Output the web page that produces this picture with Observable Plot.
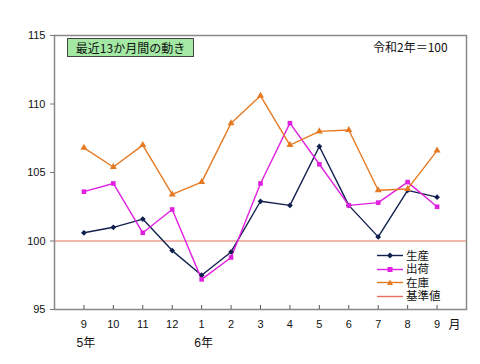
<!DOCTYPE html>
<html><head><meta charset="utf-8">
<script src="https://cdn.jsdelivr.net/npm/d3@7"></script>
<script src="https://cdn.jsdelivr.net/npm/@observablehq/plot@0.6"></script>
<style>
body{margin:0;background:#fff;font-family:"Liberation Sans","Noto Sans CJK JP",sans-serif;}
#wrap{position:relative;width:480px;height:364px;}
#title{position:absolute;left:67px;top:38px;width:125px;height:17px;background:#a3e8a3;border:1px solid #444;font-size:12px;line-height:17px;text-align:center;font-family:"Noto Sans CJK JP",sans-serif;color:#111;}
#base{position:absolute;left:373px;top:38px;font-size:12px;font-family:"Noto Sans CJK JP",sans-serif;color:#111;}
#legend{position:absolute;left:376px;top:249px;font-size:11.5px;font-family:"Liberation Sans","Noto Sans CJK JP",sans-serif;color:#111;}
#legend div{height:13.5px;line-height:12px;display:flex;align-items:center;}
#legend svg{margin-right:2px;}
</style></head><body><div id="wrap"><div id="chart"></div><div id="title"></div><div id="base"></div><div id="legend"></div></div>
<script>
const months = ["9","10","11","12","1","2","3","4","5","6","7","8","9"];
const yearLabels = ["5年","6年"];
const yearAt = [0, 4];
const production = [100.6,101.0,101.6,99.3,97.5,99.2,102.9,102.6,106.9,102.6,100.3,103.7,103.2];
const shipments  = [103.6,104.2,100.6,102.3,97.2,98.8,104.2,108.6,105.6,102.6,102.8,104.3,102.5];
const inventory  = [106.8,105.4,107.0,103.4,104.3,108.6,110.6,107.0,108.0,108.1,103.7,103.8,106.6];
const baseline = 100;
const seriesNames = ["生産","出荷","在庫","基準値"];
const titleText = "最近13か月間の動き";
const baseText = "令和2年＝100";
const yTicks = [95,100,105,110,115];

const colors = {"生産":"#12204f","出荷":"#e020e0","在庫":"#e67a22","基準値":"#e8705e"};
const symbols = {"生産":"diamond2","出荷":"square","在庫":"triangle"};

const rows = [];
[production, shipments, inventory].forEach((arr, s) => arr.forEach((v, i) => rows.push({series: seriesNames[s], i, v})));

const chart = Plot.plot({
  width: 480, height: 364,
  marginLeft: 54, marginRight: 14, marginTop: 35, marginBottom: 55,
  style: {fontFamily: "'Liberation Sans','Noto Sans CJK JP',sans-serif", fontSize: "11px", color: "#111"},
  x: {domain: [-1, 13]},
  y: {domain: [95, 115]},
  marks: [
    Plot.axisY({ticks: yTicks, tickSize: 4, tickPadding: 5, stroke: "#777", label: null, fontSize: 11}),
    Plot.axisX({ticks: d3.range(13), tickFormat: i => months[i], tickSize: -4, tickPadding: 15, stroke: "#555", label: null, fontSize: 11}),
    Plot.ruleY([baseline], {stroke: colors["基準値"], strokeWidth: 1.2}),
    Plot.line(rows, {x: "i", y: "v", z: "series", stroke: d => colors[d.series], strokeWidth: 1.4}),
    Plot.dot(rows, {x: "i", y: "v", symbol: d => symbols[d.series], fill: d => colors[d.series], r: 2.6, stroke: "none"}),
    Plot.text(yearAt, {x: d => d, text: (d, i) => yearLabels[i], frameAnchor: "bottom", dy: 37, fontSize: 12, dx: 2}),
    Plot.text(["月"], {frameAnchor: "bottom-right", dx: -6, dy: 19, fontSize: 12}),
    Plot.frame({stroke: "#888", strokeWidth: 1.5})
  ]
});
chart.style.display = "block";
document.getElementById("chart").appendChild(chart);
document.getElementById("title").textContent = titleText;
document.getElementById("base").textContent = baseText;

const legend = document.getElementById("legend");
const symPaths = {
  "生産": "M14,3.5L17,6.5L14,9.5L11,6.5Z",
  "出荷": "M11.5,4L16.5,4L16.5,9L11.5,9Z",
  "在庫": "M14,3.5L17,9L11,9Z"
};
seriesNames.forEach(name => {
  const row = document.createElement("div");
  const c = colors[name];
  row.innerHTML = `<svg width="28" height="13"><line x1="1" x2="27" y1="6.5" y2="6.5" stroke="${c}" stroke-width="1.4"/>${symPaths[name] ? `<path d="${symPaths[name]}" fill="${c}"/>` : ""}</svg><span>${name}</span>`;
  legend.appendChild(row);
});
</script></body></html>
